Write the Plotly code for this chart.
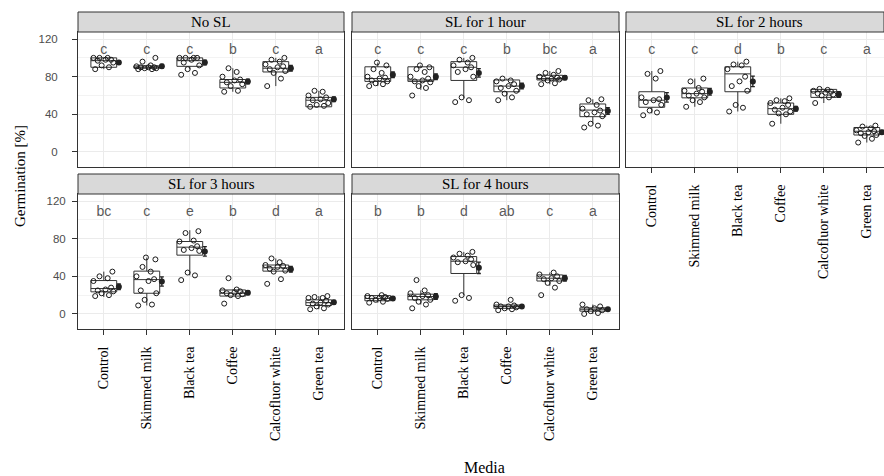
import plotly.graph_objects as go

# ---------------- data ----------------
CATEGORIES = ["Control", "Skimmed milk", "Black tea", "Coffee", "Calcofluor white", "Green tea"]
PANELS = ["No SL", "SL for 1 hour", "SL for 2 hours", "SL for 3 hours", "SL for 4 hours"]

POINTS_NOSL = [
    [88, 90, 92, 95, 97, 98, 98, 100, 100, 100],
    [88, 88, 89, 89, 90, 90, 90, 91, 92, 96, 100],
    [82, 84, 88, 92, 95, 98, 100, 100, 100, 100],
    [64, 65, 70, 72, 74, 76, 77, 80, 85, 89],
    [70, 78, 84, 86, 88, 90, 91, 93, 96, 98, 100],
    [48, 49, 50, 52, 55, 56, 58, 60, 64, 65],
]
POINTS_1H = [
    [70, 72, 73, 75, 76, 78, 79, 80, 84, 88, 92, 95],
    [60, 68, 70, 74, 75, 76, 78, 80, 85, 88, 90, 92],
    [53, 55, 58, 80, 85, 88, 90, 92, 95, 98, 100],
    [55, 58, 62, 65, 68, 70, 72, 75, 76, 78],
    [72, 73, 76, 77, 78, 78, 79, 80, 82, 84, 86],
    [26, 28, 30, 38, 40, 42, 44, 46, 50, 55, 56],
]
POINTS_2H = [
    [39, 42, 44, 50, 53, 55, 56, 58, 78, 83, 86],
    [48, 53, 55, 58, 60, 62, 64, 65, 68, 75, 78],
    [43, 47, 50, 65, 70, 75, 80, 88, 92, 93, 96],
    [30, 40, 41, 43, 45, 47, 50, 52, 54, 55, 57],
    [52, 58, 60, 61, 62, 63, 64, 65, 66, 67],
    [10, 14, 17, 18, 20, 21, 22, 23, 25, 27, 28],
]
POINTS_3H = [
    [19, 20, 22, 24, 25, 26, 28, 35, 38, 40, 45],
    [9, 10, 15, 22, 25, 35, 37, 40, 45, 50, 58, 60],
    [36, 41, 44, 67, 68, 70, 72, 77, 78, 86, 88],
    [11, 19, 20, 21, 22, 23, 24, 25, 26, 38],
    [32, 37, 45, 46, 48, 50, 51, 52, 55, 59],
    [5, 6, 8, 10, 11, 12, 14, 17, 17, 18, 19],
]
POINTS_4H = [
    [12, 13, 15, 16, 17, 17, 18, 19, 20],
    [6, 10, 13, 15, 17, 19, 20, 22, 25, 36],
    [14, 17, 20, 52, 55, 56, 58, 60, 62, 64, 66],
    [4, 5, 6, 7, 8, 8, 9, 10, 15],
    [20, 28, 33, 35, 37, 38, 40, 42, 44],
    [0, 1, 3, 4, 5, 6, 8, 10],
]

Q1_NOSL = [90, 89, 91, 68, 85, 48]
MED_NOSL = [97, 90, 97, 74, 89, 55]
Q3_NOSL = [100, 91.5, 100, 77, 96, 58]
LO_NOSL = [88, 88, 88, 64, 70, 48]
HI_NOSL = [100, 92, 100, 89, 100, 65]
MEAN_NOSL = [95, 91, 95, 75, 89, 56]
ERR_NOSL = [2, 2, 2.5, 2.5, 3, 2.5]
LET_NOSL = ["c", "c", "c", "b", "c", "a"]

Q1_1H = [75, 75, 76, 64, 76.5, 37.5]
MED_1H = [78, 76.5, 90, 70, 78, 44.5]
Q3_1H = [90.5, 90.5, 96, 76.5, 81.5, 51]
LO_1H = [70, 66, 57, 55, 72, 30]
HI_1H = [95, 92, 100, 78, 86, 56]
MEAN_1H = [82, 80, 84, 70, 79, 43.5]
ERR_1H = [3, 3, 4.5, 3, 2, 3.5]
LET_1H = ["c", "c", "c", "b", "bc", "a"]

Q1_2H = [47.5, 57.5, 64, 40, 58, 18]
MED_2H = [55, 62, 83, 46, 64, 22]
Q3_2H = [64, 68, 90.5, 52, 66.5, 26]
LO_2H = [41, 48, 43, 30, 52, 10]
HI_2H = [86, 78, 96, 57, 67, 28]
MEAN_2H = [58, 64, 75, 46, 61, 21]
ERR_2H = [5, 3.5, 5.5, 2.5, 3, 2]
LET_2H = ["c", "c", "d", "b", "c", "a"]

Q1_3H = [23.5, 22, 62.5, 19, 45.5, 9]
MED_3H = [27, 36.5, 71, 22, 49, 12]
Q3_3H = [35.5, 45.5, 77, 25.5, 52, 15]
LO_3H = [18, 9, 41, 19, 45, 5]
HI_3H = [45, 60, 89, 26, 59, 19]
MEAN_3H = [29, 34.5, 66.5, 22.5, 47.5, 12.5]
ERR_3H = [3, 5, 5, 2, 3, 2]
LET_3H = ["bc", "c", "e", "b", "d", "a"]

Q1_4H = [14, 15, 43, 6, 35, 3]
MED_4H = [16.5, 18.5, 56, 8, 38, 5]
Q3_4H = [19.5, 21, 61, 9.5, 41.5, 6.5]
LO_4H = [12, 10, 20, 4, 30, 0]
HI_4H = [20, 25, 66, 10, 44, 10]
MEAN_4H = [16.5, 18.5, 49, 8, 38, 5]
ERR_4H = [2, 3, 6, 1.5, 3, 1.5]
LET_4H = ["b", "b", "d", "ab", "c", "a"]

PANEL_DATA = [
    (POINTS_NOSL, Q1_NOSL, MED_NOSL, Q3_NOSL, LO_NOSL, HI_NOSL, MEAN_NOSL, ERR_NOSL, LET_NOSL),
    (POINTS_1H, Q1_1H, MED_1H, Q3_1H, LO_1H, HI_1H, MEAN_1H, ERR_1H, LET_1H),
    (POINTS_2H, Q1_2H, MED_2H, Q3_2H, LO_2H, HI_2H, MEAN_2H, ERR_2H, LET_2H),
    (POINTS_3H, Q1_3H, MED_3H, Q3_3H, LO_3H, HI_3H, MEAN_3H, ERR_3H, LET_3H),
    (POINTS_4H, Q1_4H, MED_4H, Q3_4H, LO_4H, HI_4H, MEAN_4H, ERR_4H, LET_4H),
]

# ---------------- style / layout ----------------
W, H = 884, 476
SERIF = "Liberation Serif"
SANS = "Liberation Sans"
JITTER = [-0.2, 0.12, -0.05, 0.22, -0.14, 0.04, 0.17, -0.24, 0.09, -0.1, 0.2, -0.02]
MEAN_OFFSET = 0.35
LETTER_Y = 108
YRANGE = [-16, 127.5]

# panel pixel boxes: (left, right, top, bottom)
PANEL_PX = [
    (78, 344, 32, 167),
    (352, 619, 32, 167),
    (626, 884, 32, 167),
    (78, 344, 194, 329),
    (352, 619, 194, 329),
]
STRIP_H = 20
UNIT_PX = 43.0


def px_x(p):
    return p / W


def px_y(p):
    return 1 - p / H


fig = go.Figure()
shapes = []
annotations = []

for i, (pts, q1, med, q3, lo, hi, mean, err, letters) in enumerate(PANEL_DATA):
    n = "" if i == 0 else str(i + 1)
    xa, ya = "x" + n, "y" + n
    pos = list(range(len(CATEGORIES)))

    fig.add_trace(go.Box(
        x=pos, q1=q1, median=med, q3=q3, lowerfence=lo, upperfence=hi,
        width=0.6, whiskerwidth=0, boxpoints=False,
        fillcolor="white", line=dict(color="#333333", width=1),
        xaxis=xa, yaxis=ya, showlegend=False, hoverinfo="skip",
    ))

    jx, jy = [], []
    for c, vals in enumerate(pts):
        for k, v in enumerate(vals):
            jx.append(c + JITTER[k % len(JITTER)])
            jy.append(v)
    fig.add_trace(go.Scatter(
        x=jx, y=jy, mode="markers",
        marker=dict(symbol="circle-open", size=5, color="#1a1a1a", line=dict(width=1)),
        xaxis=xa, yaxis=ya, showlegend=False, hoverinfo="skip",
    ))

    fig.add_trace(go.Scatter(
        x=[c + MEAN_OFFSET for c in pos], y=mean, mode="markers",
        marker=dict(symbol="circle", size=6, color="#222222"),
        error_y=dict(type="data", array=err, visible=True, color="#222222", thickness=1.3, width=2),
        xaxis=xa, yaxis=ya, showlegend=False, hoverinfo="skip",
    ))

    fig.add_trace(go.Scatter(
        x=pos, y=[LETTER_Y] * len(pos), mode="text", text=letters,
        textfont=dict(family=SANS, size=14, color="#5a5a5a"),
        xaxis=xa, yaxis=ya, showlegend=False, hoverinfo="skip",
    ))

    l, r, t, b = PANEL_PX[i]
    xmax = -0.6 + (r - l) / UNIT_PX
    show_x = i >= 2
    show_y = i in (0, 3)

    fig.layout["xaxis" + n] = dict(
        domain=[px_x(l), px_x(r)], anchor=ya, range=[-0.6, xmax],
        tickmode="array", tickvals=pos, ticktext=CATEGORIES,
        showticklabels=show_x, ticks="outside" if show_x else "",
        ticklen=5, tickcolor="#333333", tickangle=-90,
        tickfont=dict(family=SERIF, size=14, color="black"),
        ticklabelstandoff=6,
        showgrid=True, gridcolor="#ebebeb", gridwidth=1,
        showline=True, mirror=True, linecolor="#333333", linewidth=1,
        zeroline=False, fixedrange=True,
    )
    fig.layout["yaxis" + n] = dict(
        domain=[px_y(b), px_y(t)], anchor=xa, range=YRANGE,
        tickmode="array", tickvals=[0, 40, 80, 120],
        showticklabels=show_y, ticks="outside" if show_y else "",
        ticklen=5, tickcolor="#333333",
        tickfont=dict(family=SANS, size=11.5, color="#4d4d4d"),
        ticklabelstandoff=12 if i == 0 else 4,
        showgrid=True, gridcolor="#ebebeb", gridwidth=1,
        minor=dict(tickmode="array", tickvals=[-20, 20, 60, 100], showgrid=True,
                   gridcolor="#f3f3f3", gridwidth=0.6, ticks=""),
        showline=True, mirror=True, linecolor="#333333", linewidth=1,
        zeroline=False, fixedrange=True,
    )

    # facet strip
    shapes.append(dict(
        type="rect", xref="paper", yref="paper",
        x0=px_x(l), x1=px_x(r), y0=px_y(t), y1=px_y(t - STRIP_H),
        fillcolor="#d9d9d9", line=dict(color="#333333", width=1), layer="above",
    ))
    strip_center = (l + r) / 2 if i != 2 else (l + l + 267) / 2
    annotations.append(dict(
        text=PANELS[i], xref="paper", yref="paper",
        x=px_x(strip_center), y=px_y(t - STRIP_H / 2),
        showarrow=False, xanchor="center", yanchor="middle",
        font=dict(family=SERIF, size=15, color="black"),
    ))

annotations.append(dict(
    text="Germination [%]", xref="paper", yref="paper",
    x=px_x(20), y=px_y(176), textangle=-90, showarrow=False,
    xanchor="center", yanchor="middle",
    font=dict(family=SERIF, size=15, color="black"),
))
annotations.append(dict(
    text="Media", xref="paper", yref="paper",
    x=px_x(484), y=px_y(467), showarrow=False,
    xanchor="center", yanchor="middle",
    font=dict(family=SERIF, size=16, color="black"),
))

fig.update_layout(
    width=W, height=H, autosize=False,
    margin=dict(l=0, r=0, t=0, b=0),
    paper_bgcolor="white", plot_bgcolor="white",
    boxmode="overlay",
    shapes=shapes, annotations=annotations,
    showlegend=False,
)

fig.write_html("out.html")
